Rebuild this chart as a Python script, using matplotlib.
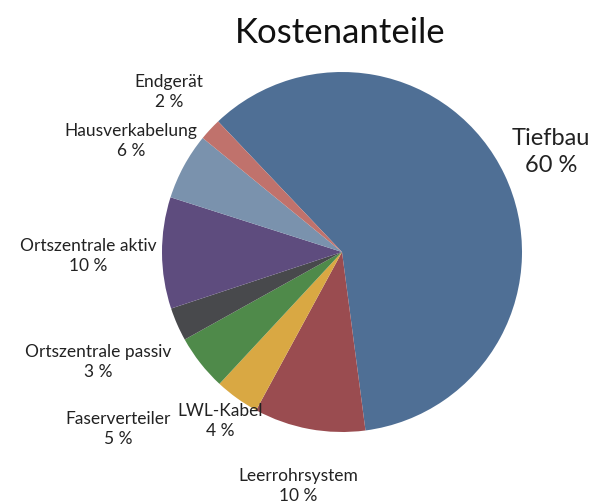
import matplotlib
matplotlib.use("Agg")
import matplotlib.pyplot as plt

# Kostenanteile (Prozent), im Uhrzeigersinn ab Tiefbau
labels = ["Tiefbau", "Leerrohrsystem", "LWL-Kabel", "Faserverteiler",
          "Ortszentrale passiv", "Ortszentrale aktiv", "Hausverkabelung", "Endgerät"]
values = [60, 10, 4, 5, 3, 10, 6, 2]
colors = ["#4f6f95", "#9a4c50", "#d9a843", "#4f8a4a",
          "#48494c", "#5e4c7e", "#7a92ad", "#c0726c"]

# Beschriftungspositionen in Pixeln (x, y von oben)
label_pos = [(551, 152), (298, 486), (220, 421), (118, 429),
             (98, 362), (88, 256), (131, 141), (169, 92)]

W, H = 591, 504
plt.rcParams['font.family'] = ['Lato', 'DejaVu Sans']

fig = plt.figure(figsize=(W / 100, H / 100), dpi=100)
cx, cy, r = 342, 252, 180
ax = fig.add_axes([(cx - r) / W, (H - cy - r) / H, 2 * r / W, 2 * r / H])
ax.pie(values, colors=colors, startangle=133.5, counterclock=False,
       radius=1.0, wedgeprops=dict(linewidth=0))
ax.set_xlim(-1, 1)
ax.set_ylim(-1, 1)
ax.set_aspect('equal')
ax.axis('off')

fig.text(340 / W, 1 - 33 / H, "Kostenanteile", ha='center', va='center',
         fontsize=25, color='#111111')

for i, (lab, val) in enumerate(zip(labels, values)):
    px, py = label_pos[i]
    size = 17 if i == 0 else 12.5
    ls = 1.4 if i == 0 else 1.3
    fig.text(px / W, 1 - py / H, f"{lab}\n{val} %", ha='center', va='center',
             fontsize=size, color='#222222', linespacing=ls)

fig.savefig("out.png", dpi=100)
